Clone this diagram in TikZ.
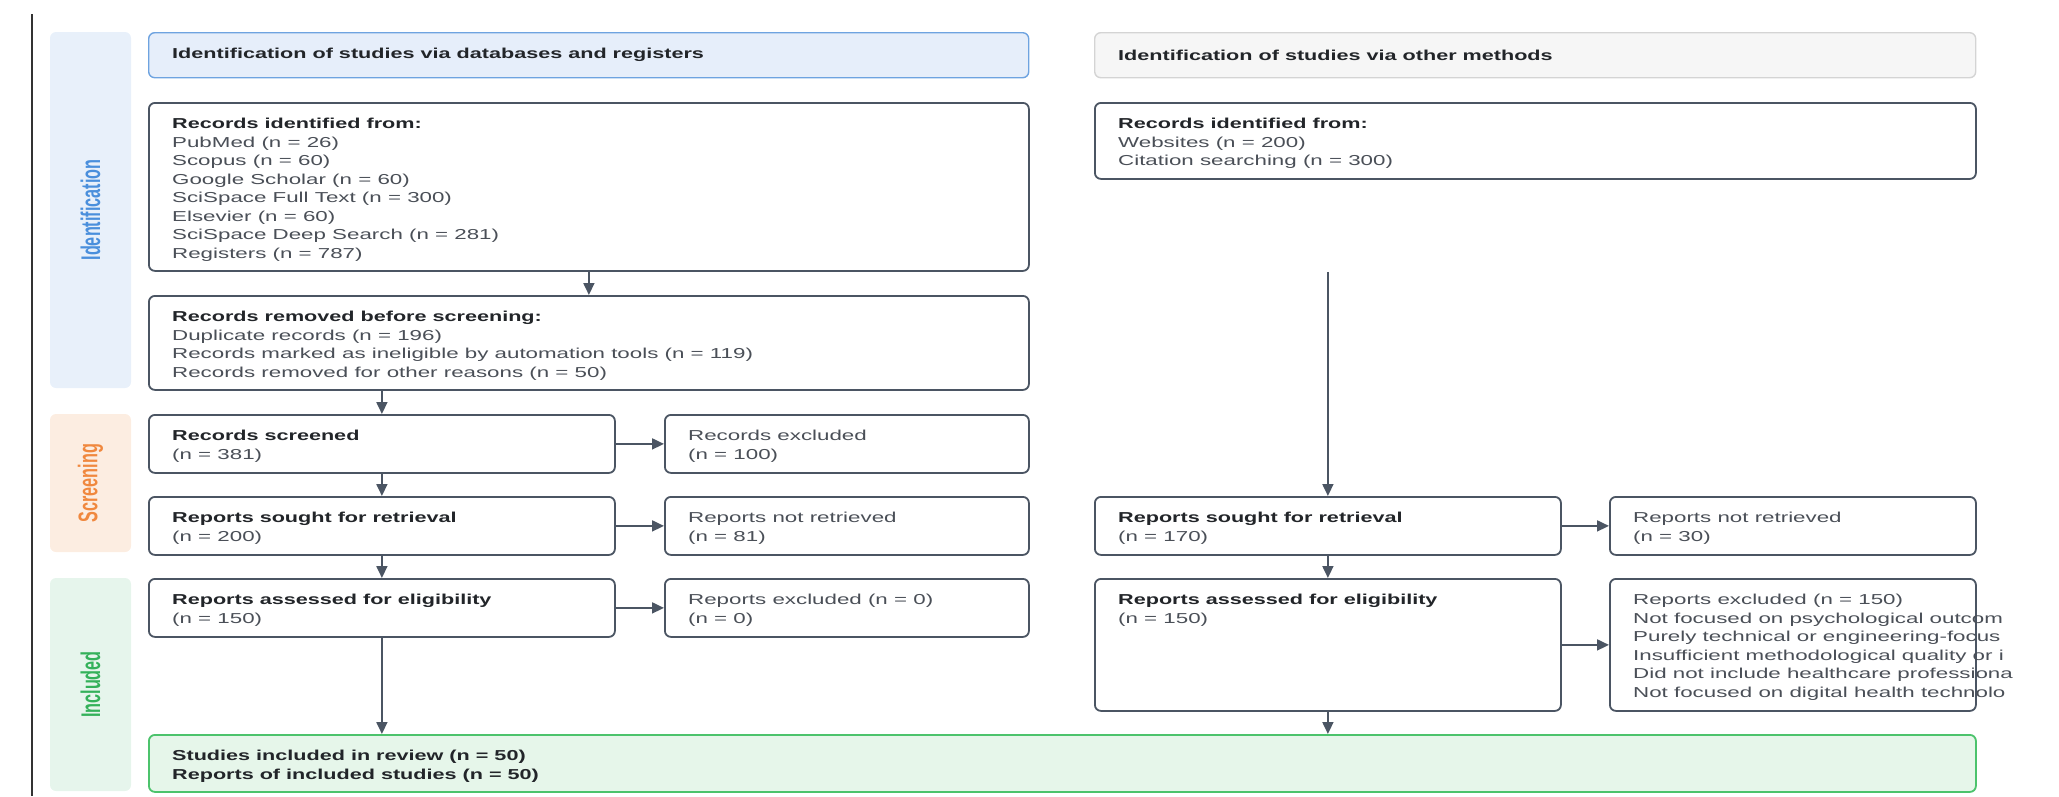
\documentclass[tikz,border=0pt]{standalone}
\usepackage{fontspec}
\setmainfont{Liberation Sans}[FakeStretch=1.55,BoldFeatures={FakeStretch=1.5}]
\newfontfamily\lanefont{Liberation Sans}[FakeStretch=0.6]
\usetikzlibrary{arrows.meta}

\definecolor{lineGray}{HTML}{4B5563}
\definecolor{txtGray}{HTML}{4A4F57}
\definecolor{txtDark}{HTML}{222529}
\definecolor{laneBlue}{HTML}{4A8FDC}
\definecolor{laneBlueFill}{HTML}{E8F0FA}
\definecolor{laneOr}{HTML}{F0883E}
\definecolor{laneOrFill}{HTML}{FCEDE1}
\definecolor{laneGr}{HTML}{34B15A}
\definecolor{laneGrFill}{HTML}{E6F5EC}
\definecolor{hdrBlueLine}{HTML}{6EA3E0}
\definecolor{hdrBlueFill}{HTML}{E6EEFA}
\definecolor{hdrGrayLine}{HTML}{D4D4D4}
\definecolor{hdrGrayFill}{HTML}{F6F6F6}
\definecolor{inclLine}{HTML}{4CC36C}
\definecolor{inclFill}{HTML}{E6F6EA}

\newcommand{\hd}[1]{{\color{txtDark}\bfseries #1}}

\begin{document}
\begin{tikzpicture}[x=1pt, y=-1pt,
  box/.style={draw=lineGray, line width=1.8pt, rounded corners=6pt, fill=white, anchor=north west, inner sep=0pt},
  txt/.style={anchor=north west, inner sep=0pt, align=left, text=txtGray, font=\fontsize{14.4}{18.5}\selectfont},
  lane/.style={rotate=90, rounded corners=6pt, inner sep=0pt, minimum height=81, font=\fontsize{27}{30}\lanefont\bfseries},
  arr/.style={draw=lineGray, line width=1.8pt, -{Triangle[length=12pt,width=11pt]}}]
\useasboundingbox (0,0) rectangle (2059,796);

\draw[line width=2pt, black!80] (31.5,14) -- (31.5,796);

% lanes
\node[lane, fill=laneBlueFill, text=laneBlue, minimum width=356] (laneId) at (90.5,210) {Identification};
\node[lane, fill=laneOrFill, text=laneOr, minimum width=138] (laneScr) at (90.5,483) {Screening};
\node[lane, fill=laneGrFill, text=laneGr, minimum width=213] (laneInc) at (90.5,684.5) {Included};

% headers
\node[box, draw=hdrBlueLine, fill=hdrBlueFill, line width=1.4pt, minimum width=880, minimum height=45] (hdrDB) at (148,32) {};
\node[txt, anchor=west] (hdrDBt) at ([xshift=24]hdrDB.west) {\hd{Identification of studies via databases and registers}};
\node[box, draw=hdrGrayLine, fill=hdrGrayFill, line width=1.4pt, minimum width=881, minimum height=45] (hdrOth) at (1094,32) {};
\node[txt, anchor=west] (hdrOtht) at ([xshift=24]hdrOth.west) {\hd{Identification of studies via other methods}};

% databases and registers
\node[box, minimum width=880, minimum height=168] (idDB) at (148,102) {};
\node[txt] (idDBt) at ([shift={(24,16)}]idDB.north west) {\hd{Records identified from:}\\ PubMed (n = 26)\\ Scopus (n = 60)\\ Google Scholar (n = 60)\\ SciSpace Full Text (n = 300)\\ Elsevier (n = 60)\\ SciSpace Deep Search (n = 281)\\ Registers (n = 787)};
\node[box, minimum width=880, minimum height=94] (removed) at (148,295) {};
\node[txt] (removedt) at ([shift={(24,16)}]removed.north west) {\hd{Records removed before screening:}\\ Duplicate records (n = 196)\\ Records marked as ineligible by automation tools (n = 119)\\ Records removed for other reasons (n = 50)};
\node[box, minimum width=466, minimum height=58] (screened) at (148,414) {};
\node[txt] (screenedt) at ([shift={(24,16)}]screened.north west) {\hd{Records screened}\\ (n = 381)};
\node[box, minimum width=364, minimum height=58] (excl) at (664,414) {};
\node[txt] (exclt) at ([shift={(24,16)}]excl.north west) {Records excluded\\ (n = 100)};
\node[box, minimum width=466, minimum height=58] (soughtL) at (148,496) {};
\node[txt] (soughtLt) at ([shift={(24,16)}]soughtL.north west) {\hd{Reports sought for retrieval}\\ (n = 200)};
\node[box, minimum width=364, minimum height=58] (notRetL) at (664,496) {};
\node[txt] (notRetLt) at ([shift={(24,16)}]notRetL.north west) {Reports not retrieved\\ (n = 81)};
\node[box, minimum width=466, minimum height=58] (assessL) at (148,578) {};
\node[txt] (assessLt) at ([shift={(24,16)}]assessL.north west) {\hd{Reports assessed for eligibility}\\ (n = 150)};
\node[box, minimum width=364, minimum height=58] (exclL) at (664,578) {};
\node[txt] (exclLt) at ([shift={(24,16)}]exclL.north west) {Reports excluded (n = 0)\\ (n = 0)};

% other methods
\node[box, minimum width=881, minimum height=76] (idOth) at (1094,102) {};
\node[txt] (idOtht) at ([shift={(24,16)}]idOth.north west) {\hd{Records identified from:}\\ Websites (n = 200)\\ Citation searching (n = 300)};
\node[box, minimum width=466, minimum height=58] (soughtR) at (1094,496) {};
\node[txt] (soughtRt) at ([shift={(24,16)}]soughtR.north west) {\hd{Reports sought for retrieval}\\ (n = 170)};
\node[box, minimum width=366, minimum height=58] (notRetR) at (1609,496) {};
\node[txt] (notRetRt) at ([shift={(24,16)}]notRetR.north west) {Reports not retrieved\\ (n = 30)};
\node[box, minimum width=466, minimum height=132] (assessR) at (1094,578) {};
\node[txt] (assessRt) at ([shift={(24,16)}]assessR.north west) {\hd{Reports assessed for eligibility}\\ (n = 150)};
\node[box, minimum width=366, minimum height=132] (exclR) at (1609,578) {};
\begin{scope}
\clip (1609,570) rectangle (2018,720);
\node[txt] (exclRt) at ([shift={(24,16)}]exclR.north west) {Reports excluded (n = 150)\\ Not focused on psychological outcom\\ Purely technical or engineering-focus\\ Insufficient methodological quality or i\\ Did not include healthcare professiona\\ Not focused on digital health technolo};
\end{scope}

% included
\node[box, draw=inclLine, fill=inclFill, minimum width=1827, minimum height=57] (included) at (148,734) {};
\node[txt] (includedt) at ([shift={(24,16)}]included.north west) {\hd{Studies included in review (n = 50)}\\ \hd{Reports of included studies (n = 50)}};

\draw[arr] (idDB.south) -- (removed.north);
\draw[arr] (screened.north |- removed.south) -- (screened.north);
\draw[arr] (screened) -- (excl);
\draw[arr] (screened) -- (soughtL);
\draw[arr] (soughtL) -- (notRetL);
\draw[arr] (soughtL) -- (assessL);
\draw[arr] (assessL) -- (exclL);
\draw[arr] (assessL.south) -- (assessL.south |- included.north);

\coordinate (othStart) at (soughtR.north |- idDB.south);
\draw[arr] (othStart) -- (soughtR.north);
\draw[arr] (soughtR) -- (notRetR);
\draw[arr] (soughtR) -- (assessR);
\draw[arr] (assessR) -- (exclR);
\draw[arr] (assessR.south) -- (assessR.south |- included.north);
\end{tikzpicture}
\end{document}
